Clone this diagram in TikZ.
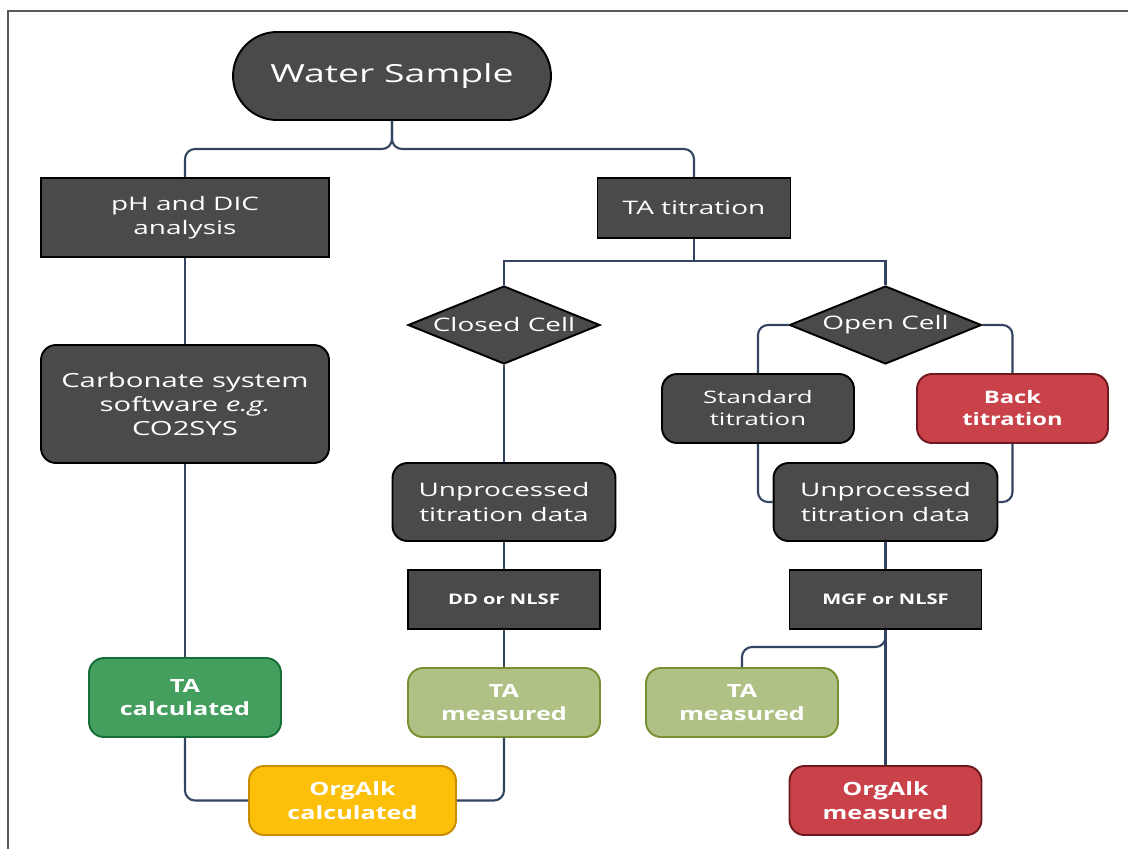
\documentclass[tikz,border=0pt]{standalone}
\usepackage{fontspec}
\setmainfont{Open Sans}[FakeStretch=1.5]
\newfontfamily\boldwide{Open Sans}[FakeStretch=1.38]
\usetikzlibrary{shapes.geometric}
\definecolor{boxgray}{RGB}{74,74,74}
\definecolor{linenavy}{RGB}{50,68,98}
\definecolor{calcgreen}{RGB}{68,158,94}
\definecolor{calcgreenborder}{RGB}{22,110,55}
\definecolor{measolive}{RGB}{176,193,134}
\definecolor{measoliveborder}{RGB}{120,143,50}
\definecolor{orgyellow}{RGB}{253,192,10}
\definecolor{orgyellowborder}{RGB}{200,140,0}
\definecolor{orgred}{RGB}{201,66,74}
\definecolor{orgredborder}{RGB}{110,25,30}
\tikzset{
  base/.style={draw=black, line width=1.1pt, fill=boxgray, text=white, align=center, inner sep=2pt},
  sq/.style={base, rectangle, font=\fontsize{10.6}{13.5}\selectfont},
  rnd/.style={base, rectangle, rounded corners=0.3cm, font=\fontsize{10.6}{14.2}\selectfont},
  choice/.style={base, diamond, minimum width=3.84cm, minimum height=1.56cm, inner sep=0pt, font=\fontsize{10.6}{13}\selectfont},
  result/.style={rnd, minimum width=3.84cm, minimum height=1.38cm, font=\boldwide\bfseries\fontsize{10.4}{13.5}\selectfont},
  conn/.style={draw=linenavy, line width=1.2pt},
}
\begin{document}
\begin{tikzpicture}[x=0.02cm, y=-0.02cm]
  \useasboundingbox (0,0) rectangle (1128,849);
  \draw[gray!70!black, line width=0.8pt] (1128,11) -- (8,11) -- (8,849);

  % top
  \node[base, rectangle, rounded corners=0.88cm, minimum width=6.36cm, minimum height=1.76cm,
        font=\fontsize{14.2}{16}\selectfont] (water) at (392,76) {Water Sample};
  \node[sq, minimum width=5.76cm, minimum height=1.58cm] (ph) at (185,217.5) {pH and DIC\\analysis};
  \node[sq, minimum width=3.86cm, minimum height=1.2cm] (ta) at (694,208) {TA titration};

  % calculated branch
  \node[rnd, minimum width=5.76cm, minimum height=2.36cm, font=\fontsize{11.1}{13.6}\selectfont]
        (carb) at (185,404) {Carbonate system\\software \textit{e.g.}\\CO2SYS};
  \node[result, fill=calcgreen, draw=calcgreenborder, minimum height=1.58cm] (tacalc) at (185,697.5) {TA\\calculated};
  \node[result, fill=orgyellow, draw=orgyellowborder, minimum width=4.14cm] (orgcalc) at (352.5,800.5) {OrgAlk\\calculated};

  % closed cell
  \node[choice] (closed) at (504,325) {\makebox[0pt]{Closed Cell}};
  \node[rnd, minimum width=4.46cm, minimum height=1.56cm] (unproca) at (504,502) {Unprocessed\\titration data};
  \node[sq, minimum width=3.84cm, minimum height=1.18cm, font=\boldwide\bfseries\fontsize{8.3}{10}\selectfont] (dd) at (504,599.5) {DD or NLSF};
  \node[result, fill=measolive, draw=measoliveborder] (tameasa) at (504,702.5) {TA\\measured};

  % open cell
  \node[choice] (open) at (885.5,325) {\makebox[0pt]{Open Cell}};
  \node[rnd, minimum width=3.84cm, minimum height=1.38cm, font=\fontsize{9.8}{12.5}\selectfont] (std) at (758,408.5) {Standard\\titration};
  \node[rnd, fill=orgred, draw=orgredborder, minimum width=3.82cm, minimum height=1.38cm,
        font=\boldwide\bfseries\fontsize{9.8}{12.5}\selectfont] (back) at (1012.5,408.5) {Back\\titration};
  \node[rnd, minimum width=4.48cm, minimum height=1.56cm] (unprocb) at (885.5,502) {Unprocessed\\titration data};
  \node[sq, minimum width=3.84cm, minimum height=1.18cm, font=\boldwide\bfseries\fontsize{8.3}{10}\selectfont] (mgf) at (885.5,599.5) {MGF or NLSF};
  \node[result, fill=measolive, draw=measoliveborder] (tameasb) at (742,702.5) {TA\\measured};
  \node[result, fill=orgred, draw=orgredborder] (orgmeas) at (885.5,800.5) {OrgAlk\\measured};

  \coordinate (split) at (392,149);
  \coordinate (tasplit) at (694,261);
  \coordinate (mgfsplit) at (885.5,647);

  \begin{scope}[conn]
    \draw[rounded corners=0.2cm] (water.south) |- (ph.north |- split) -- (ph.north);
    \draw[rounded corners=0.2cm] (water.south) |- (ta.north |- split) -- (ta.north);
    \draw (ph) -- (carb);
    \draw (carb) -- (tacalc);
    \draw[rounded corners=0.2cm] (tacalc.south) |- (orgcalc.west);
    \draw (ta.south) -- (tasplit) -| (closed.north);
    \draw (tasplit) -| (open.north);
    \draw (closed) -- (unproca);
    \draw (unproca) -- (dd);
    \draw (dd) -- (tameasa);
    \draw[rounded corners=0.2cm] (tameasa.south) |- (orgcalc.east);
    \draw[rounded corners=0.2cm] (open.west) -| (std.north);
    \draw[rounded corners=0.2cm] (open.east) -| (back.north);
    \draw[rounded corners=0.2cm] (std.south) |- (unprocb.west);
    \draw[rounded corners=0.2cm] (back.south) |- (unprocb.east);
    \draw (unprocb) -- (mgf);
    \draw (mgf) -- (orgmeas);
    \draw[rounded corners=0.2cm] (mgf.south) |- (tameasb.north |- mgfsplit) -- (tameasb.north);
  \end{scope}
\end{tikzpicture}
\end{document}
